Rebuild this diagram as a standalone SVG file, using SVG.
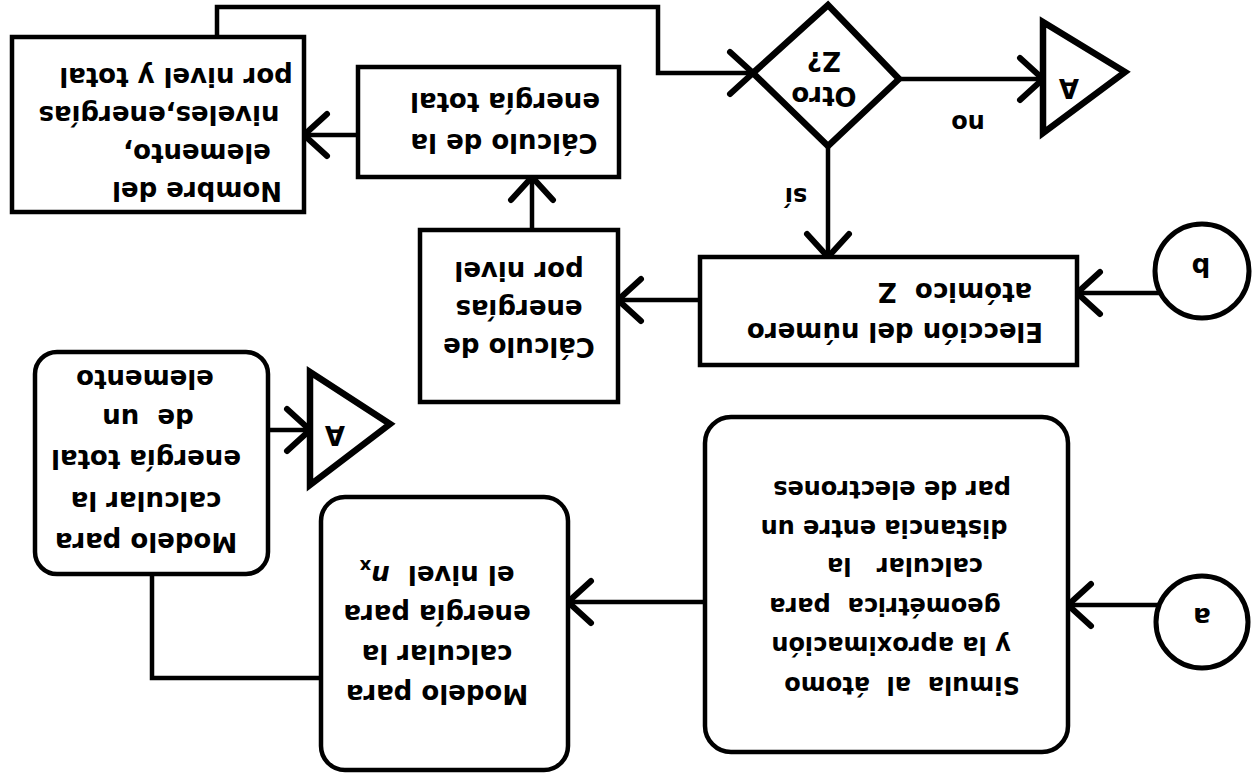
<svg xmlns="http://www.w3.org/2000/svg" width="1257" height="783" viewBox="0 0 1257 783">
  <style>
    .box { fill: #fff; stroke: #000; stroke-width: 4.5; }
    .ring { fill: #fff; stroke: #000; stroke-width: 5; }
    .shape { fill: #fff; stroke: #000; stroke-width: 6.5; stroke-linejoin: miter; }
    .conn { fill: none; stroke: #000; stroke-width: 4.5; }
    .lbl { font-family: "DejaVu Sans", "Liberation Sans", sans-serif; font-weight: bold; font-size: 26px; fill: #000; white-space: pre; }
    .mid { text-anchor: middle; }
    .sm { font-size: 24px; }
  </style>
  <defs>
    <marker id="arrow" markerUnits="userSpaceOnUse" viewBox="-30 -30 40 60" refX="0" refY="0" markerWidth="40" markerHeight="60" orient="auto" overflow="visible">
      <path d="M-23,-21 L0,0 L-23,21" fill="none" stroke="#000" stroke-width="6" stroke-linecap="round" stroke-linejoin="round"/>
    </marker>
  </defs>
  <rect width="1257" height="783" fill="#fff"/>

  <!-- the sheet is laid out upright, then turned half a revolution -->
  <g transform="rotate(180 628.5 391.5)">

    <g id="connectors">
      <path class="conn" d="M1040,746 V776 H599 V710 H504" marker-end="url(#arrow)"/>
      <path class="conn" d="M899,648 H953" marker-end="url(#arrow)"/>
      <path class="conn" d="M725,553 V606" marker-end="url(#arrow)"/>
      <path class="conn" d="M429,637 V526" marker-end="url(#arrow)"/>
      <path class="conn" d="M358,704 H214" marker-end="url(#arrow)"/>
      <path class="conn" d="M557,483 H639" marker-end="url(#arrow)"/>
      <path class="conn" d="M98,490 H180" marker-end="url(#arrow)"/>
      <path class="conn" d="M989,353 H947" marker-end="url(#arrow)"/>
      <path class="conn" d="M1105,209 V105 H936"/>
      <path class="conn" d="M552,181 H689" marker-end="url(#arrow)"/>
      <path class="conn" d="M98,178 H189" marker-end="url(#arrow)"/>
      <text class="lbl sm mid" x="289" y="668">no</text>
      <text class="lbl sm mid" x="461" y="595">sí</text>
    </g>

    <g id="start-a">
      <circle class="ring" cx="55" cy="161" r="46"/>
      <text class="lbl mid" x="55" y="175" font-size="38">a</text>
    </g>

    <g id="start-b">
      <circle class="ring" cx="55" cy="512" r="47"/>
      <text class="lbl mid" x="56" y="525" font-size="38">b</text>
    </g>

    <g id="simula">
      <rect class="box" x="189" y="31" width="363" height="335" rx="26"/>
      <text class="lbl sm mid" x="355" y="106">Simula  al  átomo</text>
      <text class="lbl sm mid" x="366" y="146">y la aproximación</text>
      <text class="lbl sm mid" x="372" y="185">geométrica  para</text>
      <text class="lbl sm mid" x="352" y="225">calcular   la</text>
      <text class="lbl sm mid" x="373" y="263">distancia entre un</text>
      <text class="lbl sm mid" x="365" y="302">par de electrones</text>
    </g>

    <g id="modelo-nivel">
      <rect class="box" x="689" y="13" width="247" height="273" rx="24"/>
      <text class="lbl mid" x="820" y="98">Modelo para</text>
      <text class="lbl mid" x="820" y="138">calcular la</text>
      <text class="lbl mid" x="820" y="178">energía para</text>
      <text class="lbl mid" x="820" y="217">el nivel  <tspan font-style="italic">n</tspan><tspan font-size="18" dy="6">x</tspan></text>
    </g>

    <g id="modelo-total">
      <rect class="box" x="989" y="209" width="233" height="222" rx="22"/>
      <text class="lbl mid" x="1111" y="250">Modelo para</text>
      <text class="lbl mid" x="1111" y="291">calcular la</text>
      <text class="lbl mid" x="1111" y="333">energía total</text>
      <text class="lbl mid" x="1109" y="374">de  un</text>
      <text class="lbl mid" x="1112" y="413">elemento</text>
    </g>

    <g id="fin-a-1">
      <polygon class="shape" points="947,298 947,411 867,359"/>
      <text class="lbl mid" x="922" y="357" font-size="28">A</text>
    </g>

    <g id="eleccion">
      <rect class="box" x="180" y="418" width="377" height="108"/>
      <text class="lbl mid" x="362" y="460">Elección del número</text>
      <text class="lbl mid" x="302" y="500">atómico  Z</text>
    </g>

    <g id="energias-nivel">
      <rect class="box" x="639" y="381" width="198" height="172"/>
      <text class="lbl mid" x="738" y="445">Cálculo de</text>
      <text class="lbl mid" x="738" y="483">energías</text>
      <text class="lbl mid" x="738" y="521">por nivel</text>
    </g>

    <g id="energia-total">
      <rect class="box" x="638" y="606" width="261" height="110"/>
      <text class="lbl mid" x="753" y="649">Cálculo de la</text>
      <text class="lbl mid" x="752" y="690">energía total</text>
    </g>

    <g id="nombre">
      <rect class="box" x="953" y="571" width="292" height="175"/>
      <text class="lbl mid" x="1060" y="601">Nombre del</text>
      <text class="lbl mid" x="1060" y="639">elemento,</text>
      <text class="lbl mid" x="1098" y="677">niveles,energías</text>
      <text class="lbl mid" x="1081" y="715">por nivel y total</text>
    </g>

    <g id="otro-z">
      <polygon class="shape" points="504,710 429,778 358,704 429,637"/>
      <text class="lbl mid" x="433" y="696">Otro</text>
      <text class="lbl mid" x="433" y="731">Z?</text>
    </g>

    <g id="fin-a-2">
      <polygon class="shape" points="214,650 214,761 132,711"/>
      <text class="lbl mid" x="188" y="704" font-size="28">A</text>
    </g>
  </g>
</svg>
